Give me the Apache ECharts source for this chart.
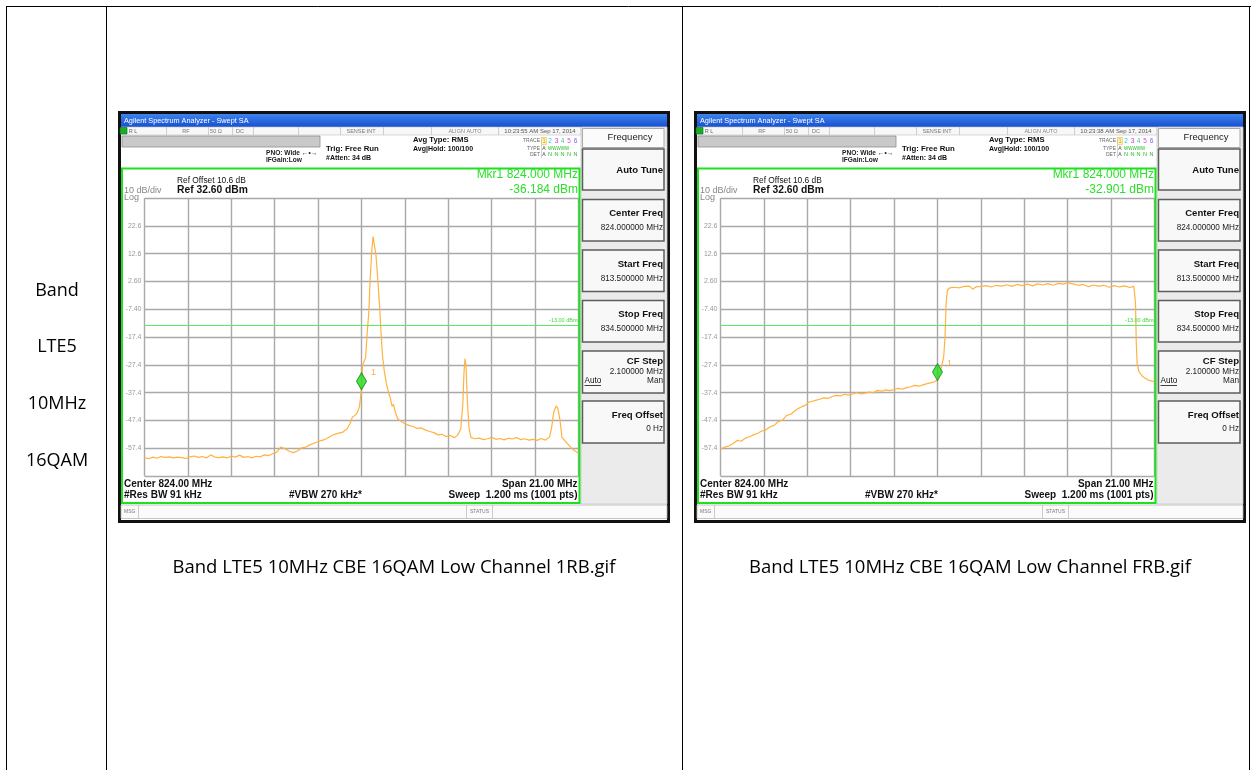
<!DOCTYPE html>
<html><head><meta charset="utf-8">
<script src="https://cdn.jsdelivr.net/npm/echarts@6/dist/echarts.min.js"></script>
<style>html,body{margin:0;padding:0;background:#fff}#c{width:1251px;height:770px}</style>
</head><body><div id="c"></div>
<script>
// ---------------- data ----------------
const rowLabels = ['Band', 'LTE5', '10MHz', '16QAM'];
const captions = ['Band LTE5 10MHz CBE 16QAM Low Channel 1RB.gif', 'Band LTE5 10MHz CBE 16QAM Low Channel FRB.gif'];
const timestamps = ['10:23:55 AM Sep 17, 2014', '10:23:38 AM Sep 17, 2014'];
const startFreq = 813.5, stopFreq = 834.5, refLevel = 32.6;
const markerFreq = [824.0, 824.0];
const markerLevel = [-36.184, -32.901];
const displayLine = -13.0;

// 1RB trace (MHz, dBm)
const freq1 = [813.5,813.7,813.9,814.1,814.3,814.5,814.7,814.9,815.1,815.3,815.5,815.7,815.9,816.1,816.3,816.5,816.7,816.9,817.1,817.3,817.5,817.7,817.9,818.1,818.3,818.5,818.7,818.9,819.1,819.3,819.5,819.7,819.9,820.1,820.3,820.5,820.7,820.9,821.1,821.3,821.5,821.7,821.9,822.1,822.3,822.5,822.7,822.9,823.1,823.3,823.45,823.55,823.7,823.8,823.9,824.0,824.05,824.12,824.2,824.28,824.35,824.42,824.5,824.56,824.62,824.7,824.8,824.88,824.95,825.02,825.1,825.2,825.3,825.4,825.48,825.55,825.62,825.75,825.9,826.1,826.3,826.5,826.7,826.9,827.1,827.3,827.5,827.7,827.9,828.1,828.3,828.5,828.65,828.8,828.9,828.96,829.01,829.06,829.12,829.2,829.3,829.5,829.7,829.9,830.1,830.3,830.5,830.7,830.9,831.1,831.3,831.5,831.7,831.9,832.1,832.3,832.5,832.7,832.9,833.1,833.2,833.3,833.42,833.5,833.6,833.7,833.85,834.0,834.15,834.3,834.5];
const level1 = [-60.8,-61.2,-60.6,-61.0,-60.4,-60.7,-60.5,-60.9,-60.6,-60.8,-61.1,-60.5,-60.2,-60.7,-60.4,-60.9,-59.8,-60.6,-60.8,-60.5,-60.9,-60.2,-60.6,-59.9,-60.7,-60.4,-60.9,-60.3,-60.5,-59.8,-60.1,-59.4,-58.8,-57.0,-57.6,-58.5,-59.0,-58.4,-57.3,-57.0,-56.2,-55.6,-55.0,-54.6,-54.0,-53.1,-52.4,-52.0,-51.6,-50.4,-48.5,-46.3,-45.5,-44.5,-42.5,-36.184,-27.5,-26.3,-24.8,-15.5,-9.0,3.5,14.0,18.7,18.0,12.0,2.0,-7.0,-16.5,-24.5,-29.5,-34.0,-37.2,-39.5,-42.4,-41.6,-44.0,-46.8,-47.6,-48.6,-49.2,-49.6,-50.3,-50.1,-50.9,-51.4,-51.8,-52.6,-52.4,-53.2,-52.8,-53.6,-52.7,-50.5,-42.0,-30.0,-25.2,-28.0,-40.0,-50.0,-53.6,-54.0,-53.8,-54.3,-54.0,-53.5,-54.2,-53.9,-54.4,-53.8,-54.1,-53.6,-54.3,-54.0,-54.5,-54.2,-54.6,-53.9,-54.5,-53.4,-50.0,-44.5,-42.2,-43.0,-47.0,-53.5,-54.8,-56.0,-57.3,-58.2,-59.2];

// FRB trace (MHz, dBm)
const freq2 = [813.5,813.7,813.9,814.1,814.3,814.5,814.7,814.9,815.1,815.3,815.5,815.7,815.9,816.1,816.3,816.5,816.7,816.9,817.05,817.2,817.4,817.6,817.75,817.9,818.1,818.3,818.5,818.7,818.9,819.1,819.3,819.5,819.7,819.9,820.1,820.3,820.5,820.7,820.9,821.1,821.3,821.5,821.7,821.9,822.1,822.3,822.5,822.7,822.9,823.1,823.3,823.5,823.7,823.85,824.0,824.1,824.2,824.3,824.36,824.42,824.48,824.6,824.8,825.05,825.3,825.55,825.7,825.85,826.1,826.35,826.6,826.85,827.1,827.35,827.6,827.85,828.1,828.35,828.6,828.85,829.1,829.35,829.6,829.85,830.1,830.3,830.55,830.8,831.05,831.3,831.55,831.8,832.05,832.3,832.55,832.8,833.05,833.3,833.5,833.58,833.62,833.66,833.75,833.9,834.05,834.2,834.35,834.5];
const level2 = [-57.8,-57.0,-56.6,-55.8,-54.6,-54.9,-53.8,-53.3,-52.6,-52.0,-51.2,-50.8,-49.7,-49.2,-47.8,-47.3,-45.6,-45.2,-44.3,-43.4,-42.6,-42.0,-40.9,-40.6,-40.2,-39.8,-39.3,-39.5,-38.8,-38.4,-38.6,-38.0,-38.3,-37.9,-37.4,-37.9,-37.6,-37.2,-37.5,-36.6,-36.9,-36.4,-36.7,-36.3,-35.9,-36.2,-35.6,-35.3,-34.8,-35.1,-34.6,-34.2,-33.8,-33.5,-32.901,-30.2,-28.0,-24.5,-18.0,-5.0,-0.5,0.3,0.5,0.3,0.8,0.9,-0.2,0.6,0.8,1.1,0.6,1.2,0.9,1.4,0.8,1.5,1.1,1.6,1.0,1.7,1.3,1.8,1.2,1.9,1.6,2.1,1.7,1.2,1.5,0.7,1.3,0.9,1.2,0.5,1.1,0.6,1.0,0.4,0.8,-5.0,-20.0,-26.9,-29.9,-31.4,-32.2,-32.9,-33.2,-33.6];

// ---------------- chrome helpers ----------------
const G = [];
const AF = '"Liberation Sans", Arial, sans-serif';
function R(x, y, w, h, style, z) { G.push({type:'rect', shape:{x, y, width:w, height:h}, style, z: z == null ? 1 : z, silent:true}); }
function L(x1, y1, x2, y2, stroke, lw, z) { G.push({type:'line', shape:{x1, y1, x2, y2}, style:{stroke, lineWidth: lw || 1}, z: z == null ? 2 : z, silent:true}); }
function T(x, y, text, font, fill, align, z) { G.push({type:'text', x, y, style:{text, font, fill: fill || '#000', align: align || 'left', verticalAlign:'middle'}, z: z == null ? 5 : z, silent:true}); }

// table
L(6, 6.5, 1251, 6.5, '#000', 1);
[6.5, 106.5, 682.5, 1249.5].forEach(v => L(v, 6, v, 770, '#000', 1));
const rowY = [291, 347, 404, 461];
rowLabels.forEach((t, i) => T(57, rowY[i], t, '18px "Open Sans", sans-serif', '#000', 'center'));

function screen(ox, idx) {
  const X = v => v + ox;
  R(X(119.5), 112.5, 549, 409, {fill:'#fff', stroke:'#111', lineWidth:3}, 0);
  R(X(121), 114, 546, 13, {fill:{type:'linear', x:0, y:0, x2:0, y2:1, colorStops:[{offset:0, color:'#3f83ee'}, {offset:1, color:'#1550d0'}]}}, 1);
  T(X(124), 120.5, 'Agilent Spectrum Analyzer - Swept SA', '7.3px ' + AF, '#fff');
  // status row
  R(X(121), 127, 460, 8, {fill:'#f7f7f7', stroke:'#c0c0c0', lineWidth:0.6}, 1);
  [166, 208, 232, 253, 298, 340, 383, 431, 498].forEach(v => L(X(v) + 0.5, 127, X(v) + 0.5, 135, '#c4c4c4', 0.8));
  R(X(120), 127.5, 7, 6.5, {fill:'#19b019', stroke:'#063', lineWidth:0.6}, 2);
  T(X(133), 131, 'R L', '5.5px ' + AF, '#666', 'center');
  T(X(186), 131, 'RF', '5.5px ' + AF, '#777', 'center');
  T(X(216), 131, '50 Ω', '5.5px ' + AF, '#777', 'center');
  T(X(240), 131, 'DC', '5.5px ' + AF, '#777', 'center');
  T(X(361), 131, 'SENSE:INT', '5.5px ' + AF, '#777', 'center');
  T(X(465), 131, 'ALIGN AUTO', '5.5px ' + AF, '#888', 'center');
  T(X(540), 131, timestamps[idx], '6px ' + AF, '#555', 'center');
  // gray bar
  R(X(122), 136, 198, 11, {fill:'#c9c9c9', stroke:'#8d8d8d', lineWidth:0.8}, 1);
  T(X(266), 152.7, 'PNO: Wide ←•→', 'bold 6.6px ' + AF, '#222');
  T(X(266), 160.5, 'IFGain:Low', 'bold 6.6px ' + AF, '#222');
  T(X(326), 149.3, 'Trig: Free Run', 'bold 7.8px ' + AF, '#111');
  T(X(326), 158.3, '#Atten: 34 dB', 'bold 7px ' + AF, '#111');
  T(X(413), 140, 'Avg Type: RMS', 'bold 7.7px ' + AF, '#111');
  T(X(413), 149.3, 'Avg|Hold: 100/100', 'bold 7px ' + AF, '#111');
  T(X(540), 141, 'TRACE', '5px ' + AF, '#666', 'right');
  T(X(540), 148.3, 'TYPE', '5px ' + AF, '#666', 'right');
  T(X(540), 154.5, 'DET', '5px ' + AF, '#666', 'right');
  L(X(541.5), 137, X(541.5), 158, '#bbb', 0.6);
  R(X(541.5), 137.5, 5, 7, {fill:'#fff7c0', stroke:'#e8b030', lineWidth:0.5}, 2);
  const tc = ['#e89a00', '#22c8e8', '#e030e0', '#40c8a0', '#e050d0', '#7a5cf0'];
  const tx = [544, 550, 556.5, 562.5, 569, 575.5];
  tc.forEach((c, i) => T(X(tx[i]), 141, String(i + 1), '6.5px ' + AF, c, 'center'));
  T(X(544), 148.3, 'A', '5px ' + AF, '#444', 'center');
  T(X(548), 148.3, 'WWWWW', '4.5px ' + AF, '#22bb22', 'left');
  T(X(544), 154.5, 'A', '5px ' + AF, '#444', 'center');
  tx.slice(1).forEach(v => T(X(v), 154.5, 'N', '5.5px ' + AF, '#22bb22', 'center'));
  // green panel
  R(X(122), 168.5, 457.5, 334.5, {fill:null, stroke:'#1fe01f', lineWidth:2}, 3);
  T(X(177), 180.7, 'Ref Offset 10.6 dB', '8.4px ' + AF, '#111');
  T(X(177), 190.5, 'Ref 32.60 dBm', 'bold 10.3px ' + AF, '#111');
  T(X(124), 191, '10 dB/div', '9px ' + AF, '#888');
  T(X(124), 198, 'Log', '9px ' + AF, '#888');
  T(X(578), 175, 'Mkr1 ' + markerFreq[idx].toFixed(3) + ' MHz', '12px ' + AF, '#2ae02a', 'right');
  T(X(578), 189.5, markerLevel[idx].toFixed(3) + ' dBm', '12px ' + AF, '#2ae02a', 'right');
  T(X(124), 484.3, 'Center ' + ((startFreq + stopFreq) / 2).toFixed(2) + ' MHz', 'bold 10px ' + AF, '#111');
  T(X(124), 495.7, '#Res BW 91 kHz', 'bold 10px ' + AF, '#111');
  T(X(289), 495.7, '#VBW 270 kHz*', 'bold 10px ' + AF, '#111');
  T(X(577.5), 484.3, 'Span ' + (stopFreq - startFreq).toFixed(2) + ' MHz', 'bold 10px ' + AF, '#111', 'right');
  T(X(577.5), 495.7, 'Sweep  1.200 ms (1001 pts)', 'bold 10px ' + AF, '#111', 'right');
  // MSG bar
  R(X(121), 505, 546, 13.5, {fill:'#fbfbfb', stroke:'#b5b5b5', lineWidth:0.8}, 1);
  L(X(138.5), 505, X(138.5), 518.5, '#c0c0c0', 0.8);
  L(X(466.5), 505, X(466.5), 518.5, '#c0c0c0', 0.8);
  L(X(492.5), 505, X(492.5), 518.5, '#c0c0c0', 0.8);
  T(X(124), 511.5, 'MSG', '5px ' + AF, '#777');
  T(X(479.5), 511.5, 'STATUS', '5px ' + AF, '#777', 'center');
  // softkey panel
  R(X(581), 127, 86, 377, {fill:'#ebebeb', stroke:'#c8c8c8', lineWidth:0.8}, 1);
  R(X(582.5), 128.5, 81.5, 19, {fill:'#fbfbfb', stroke:'#a8a8a8', lineWidth:1}, 2);
  T(X(630), 137.5, 'Frequency', '9.5px ' + AF, '#222', 'center');
  const keys = [[149, 190], [199.5, 241], [250, 291.5], [300.5, 342], [351, 393], [401, 443]];
  keys.forEach(k => R(X(582.5), k[0], 81.5, k[1] - k[0], {fill:'#f8f8f8', stroke:'#5c5c5c', lineWidth:1.5}, 2));
  const KF = 'bold 9.6px ' + AF, VF = '8.2px ' + AF;
  T(X(663), 170, 'Auto Tune', KF, '#111', 'right');
  T(X(663), 213.3, 'Center Freq', KF, '#111', 'right');
  T(X(663), 227.3, ((startFreq + stopFreq) / 2).toFixed(6) + ' MHz', VF, '#222', 'right');
  T(X(663), 264, 'Start Freq', KF, '#111', 'right');
  T(X(663), 278.3, startFreq.toFixed(6) + ' MHz', VF, '#222', 'right');
  T(X(663), 314, 'Stop Freq', KF, '#111', 'right');
  T(X(663), 328.3, stopFreq.toFixed(6) + ' MHz', VF, '#222', 'right');
  T(X(663), 361.5, 'CF Step', KF, '#111', 'right');
  T(X(663), 371.5, ((stopFreq - startFreq) / 10).toFixed(6) + ' MHz', VF, '#222', 'right');
  T(X(584.5), 381, 'Auto', VF, '#111', 'left');
  L(X(584.5), 385.5, X(601), 385.5, '#111', 0.8, 6);
  T(X(663), 381, 'Man', VF, '#222', 'right');
  T(X(663), 415, 'Freq Offset', KF, '#111', 'right');
  T(X(663), 428.5, '0 Hz', VF, '#222', 'right');
  // caption
  T(X(394), 568, captions[idx], '18.5px "Open Sans", sans-serif', '#000', 'center');
}
screen(0, 0);
screen(576, 1);

// ---------------- chart ----------------
const toPts = (fs, ls) => fs.map((f, i) => [(f - startFreq) * 1000, ls[i] - refLevel]);
const pts = [toPts(freq1, level1), toPts(freq2, level2)];
const grids = [0, 1].map(i => ({left: 144.5 + 576 * i, top: 198, width: 434, height: 278, show: false}));
const gridLine = {show: true, lineStyle: {color: '#a9a9a9', width: 1.4}};
const xAxes = [0, 1].map(i => ({type:'value', gridIndex:i, min:0, max:(stopFreq - startFreq) * 1000, interval:(stopFreq - startFreq) * 100,
  axisLabel:{show:false}, axisTick:{show:false}, axisLine:{show:false}, splitLine:gridLine}));
const yAxes = [0, 1].map(i => ({type:'value', gridIndex:i, min:-100, max:0, interval:10,
  axisTick:{show:false}, axisLine:{show:false}, splitLine:gridLine,
  axisLabel:{color:'#9a9a9a', fontSize:7, margin:3, fontFamily:'Liberation Sans',
    formatter: v => (v <= -100 || v >= 0) ? '' : (v + refLevel).toPrecision(3)}}));
const series = [];
[0, 1].forEach(i => {
  series.push({type:'line', xAxisIndex:i, yAxisIndex:i, data:pts[i], showSymbol:false, silent:true,
    lineStyle:{color:'#ffb23f', width:1.2}, z:3,
    markLine:{silent:true, symbol:'none', data:[{yAxis: displayLine - refLevel}],
      lineStyle:{color:'#5fe85f', width:1, type:'solid'},
      label:{show:true, position:'insideEndTop', formatter: displayLine.toFixed(2) + ' dBm', color:'#3ed83e', fontSize:5.5, distance:1}}});
  series.push({type:'scatter', xAxisIndex:i, yAxisIndex:i, silent:true, z:5,
    data:[[(markerFreq[i] - startFreq) * 1000, markerLevel[i] - refLevel]],
    symbol:'diamond', symbolSize:[10, 17], symbolOffset:[0, -8],
    itemStyle:{color:'#20dc20', borderColor:'#0c8a0c', borderWidth:1},
    label:{show:true, formatter:'1', position:'right', offset:[-1, -9], color:'#f29a1e', fontSize:9, fontFamily:'Liberation Sans'}});
});

const chart = echarts.init(document.getElementById('c'), null, {renderer:'canvas'});
chart.setOption({
  animation:false,
  grid:grids, xAxis:xAxes, yAxis:yAxes, series,
  graphic:{elements:G}
});
</script>
</body></html>
